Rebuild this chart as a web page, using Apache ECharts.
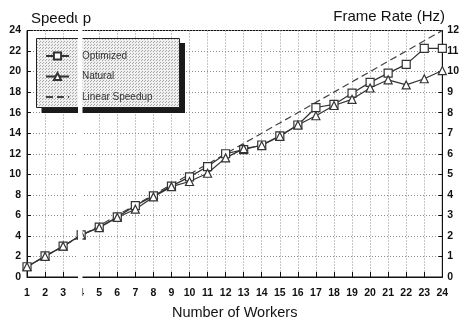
<!DOCTYPE html>
<html>
<head>
<meta charset="utf-8">
<script src="https://cdn.jsdelivr.net/npm/echarts@6/dist/echarts.min.js"></script>
<style>
html,body{margin:0;padding:0;background:#fff;}
#c{width:462px;height:325px;}
</style>
</head>
<body>
<div id="c"></div>
<script>
var workers = ['1','2','3','4','5','6','7','8','9','10','11','12','13','14','15','16','17','18','19','20','21','22','23','24'];
var optimized = [1.0, 2.05, 3.0, 4.1, 4.85, 5.85, 6.95, 7.9, 8.85, 9.75, 10.75, 12.0, 12.4, 12.85, 13.75, 14.8, 16.5, 16.8, 17.9, 18.95, 19.85, 20.7, 22.25, 22.25];
var natural = [1.0, 2.0, 3.0, 4.1, 4.8, 5.8, 6.6, 7.8, 8.8, 9.3, 10.1, 11.6, 12.5, 12.8, 13.7, 14.8, 15.7, 16.7, 17.3, 18.4, 19.2, 18.7, 19.3, 20.1];
var linearSpeedup = [1, 2, 3, 4, 5, 6, 7, 8, 9, 10, 11, 12, 13, 14, 15, 16, 17, 18, 19, 20, 21, 22, 23, 24];
var seriesNames = ['Optimized', 'Natural', 'Linear Speedup'];

// stipple pattern for legend box
var pc = document.createElement('canvas');
pc.width = 3; pc.height = 3;
var pctx = pc.getContext('2d');
pctx.fillStyle = '#f0f0f0'; pctx.fillRect(0,0,3,3);
pctx.fillStyle = '#a8a8a8'; pctx.fillRect(0,0,1,1); pctx.fillRect(1,2,1,1);

var chart = echarts.init(document.getElementById('c'), null, {renderer:'canvas'});
var FONT = 'Liberation Sans, Arial, sans-serif';
var tickLabel = {fontFamily: FONT, fontSize: 10.5, fontWeight: 'bold', color: '#111'};
var gridLine = {show: true, lineStyle: {color: '#8c8c8c', type: [1, 2], width: 1}};

chart.setOption({
  animation: false,
  backgroundColor: '#fff',
  grid: {left: 27, right: 17, top: 30.5, bottom: 43.5, show: true, borderColor: '#111', borderWidth: 1, containLabel: false},
  xAxis: {
    type: 'category', data: workers, boundaryGap: false,
    name: 'Number of Workers', nameLocation: 'middle', nameGap: 28,
    nameTextStyle: {fontFamily: FONT, fontSize: 14.5, color: '#111'},
    axisLine: {lineStyle: {color: '#111', width: 1}},
    axisTick: {inside: true, length: 5, lineStyle: {color: '#111'}},
    axisLabel: Object.assign({margin: 11, interval: 0}, tickLabel),
    splitLine: gridLine
  },
  yAxis: [{
    type: 'value', min: 0, max: 24, interval: 2, position: 'left',
    axisLine: {show: true, lineStyle: {color: '#111'}},
    axisTick: {show: true, inside: true, length: 4, lineStyle: {color: '#111'}},
    axisLabel: Object.assign({margin: 6}, tickLabel),
    splitLine: gridLine
  }, {
    type: 'value', min: 0, max: 12, interval: 1, position: 'right',
    axisLine: {show: true, lineStyle: {color: '#111'}},
    axisTick: {show: true, inside: true, length: 4, lineStyle: {color: '#111'}},
    axisLabel: Object.assign({margin: 5}, tickLabel),
    splitLine: {show: false}
  }],
  legend: {
    orient: 'vertical', left: 45, top: 51, itemWidth: 23, itemHeight: 9, itemGap: 10.5,
    padding: 0, z: 20,
    data: [seriesNames[0], seriesNames[1], {name: seriesNames[2], itemStyle: {opacity: 0}}],
    textStyle: {fontFamily: FONT, fontSize: 10, color: '#333', padding: [0,0,0,8], lineHeight: 10}
  },
  graphic: [
    {type: 'rect', shape: {x: 41.5, y: 43, width: 143.5, height: 70}, style: {fill: '#1a1a1a'}, z: 5},
    {type: 'rect', shape: {x: 36.5, y: 38.5, width: 143, height: 69}, style: {fill: {image: pc, repeat: 'repeat'}, stroke: '#222', lineWidth: 1}, z: 6},
    {type: 'text', left: 31, top: 11, style: {text: 'Speedup', fontFamily: FONT, fontSize: 15, fill: '#111'}, z: 10},
    {type: 'text', right: 17, top: 9, style: {text: 'Frame Rate (Hz)', fontFamily: FONT, fontSize: 15, fill: '#111'}, z: 10},
    {type: 'rect', shape: {x: 78, y: 0, width: 4.5, height: 305}, style: {fill: '#fff'}, z: 100}
  ],
  series: [{
    name: 'Linear Speedup', type: 'line', data: linearSpeedup, symbol: 'none',
    lineStyle: {color: '#444', width: 1.2, type: [7, 4]}, itemStyle: {color: '#444'}, z: 2
  }, {
    name: 'Optimized', type: 'line', data: optimized, symbol: 'rect', symbolSize: 8,
    lineStyle: {color: '#333', width: 1.2},
    itemStyle: {color: '#fff', borderColor: '#333', borderWidth: 1.2}, z: 3
  }, {
    name: 'Natural', type: 'line', data: natural, symbol: 'triangle', symbolSize: 8,
    lineStyle: {color: '#333', width: 1.2},
    itemStyle: {color: '#fff', borderColor: '#333', borderWidth: 1.2}, z: 3
  }]
});
</script>
</body>
</html>
